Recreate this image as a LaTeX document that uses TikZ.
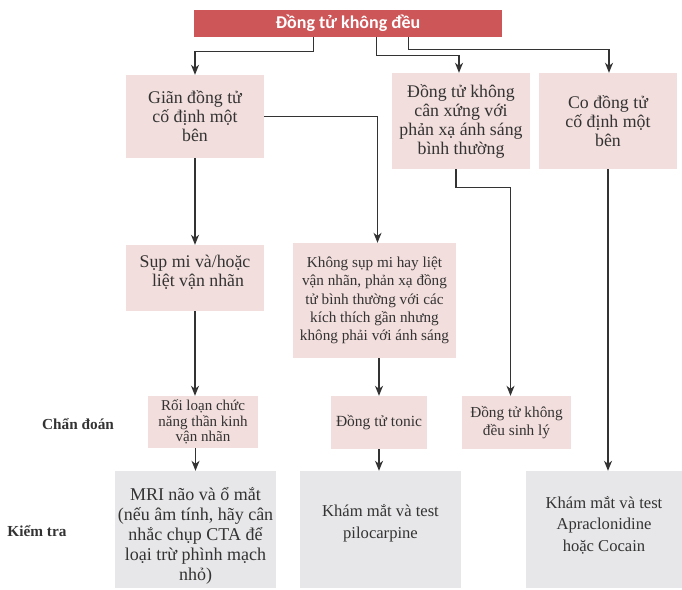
\documentclass[tikz,border=0pt]{standalone}
\usepackage{fontspec}
\newfontfamily\boxfont{Liberation Serif}
\newfontfamily\titlefont{Carlito}
\usetikzlibrary{arrows.meta,calc}
\definecolor{titlered}{HTML}{CD5659}
\definecolor{pinkbox}{HTML}{F2DEDC}
\definecolor{greybox}{HTML}{E7E7E9}
\definecolor{inkgrey}{HTML}{333333}
\tikzset{
  arr/.style={draw=inkgrey, line width=1.2pt, -{Stealth[length=10pt,width=8pt,inset=3pt]}},
  pbox/.style={fill=pinkbox, text=inkgrey, align=center, inner sep=0pt},
  gbox/.style={fill=greybox, text=inkgrey, align=center, inner sep=0pt},
  bigtxt/.style={font=\boxfont\fontsize{17.8}{19}\selectfont},
  testtxt/.style={font=\boxfont\fontsize{16.6}{21.5}\selectfont},
  smalltxt/.style={font=\boxfont\fontsize{15.2}{18.3}\selectfont},
  rowlabel/.style={text=inkgrey, font=\boxfont\fontsize{15.3}{17}\selectfont\bfseries}
}
\begin{document}
\begin{tikzpicture}[x=1pt,y=-1pt]
	\useasboundingbox (0,0) rectangle (682,589);
	% title
	\node[fill=titlered, text=white, minimum width=308pt, minimum height=27pt,
	  font=\titlefont\fontsize{18}{20}\selectfont\bfseries] (title) at (348,23.5) {Đồng tử không đều};
	% first row
	\node[pbox, bigtxt, minimum width=138pt, minimum height=83pt] (gian) at (195,116.5)
	  {Giãn đồng tử\\cố định một\\bên};
	\node[pbox, bigtxt, minimum width=138pt, minimum height=96pt] (cxung) at (461,121)
	  {Đồng tử không\\cân xứng với\\phản xạ ánh sáng\\bình thường};
	\node[pbox, bigtxt, minimum width=138pt, minimum height=96pt] (co) at (608,121)
	  {Co đồng tử\\cố định một\\bên};
	% second row
	\node[pbox, bigtxt, minimum width=138pt, minimum height=66pt] (supmi) at (195,278)
	  {Sụp mi và/hoặc\\\,\,liệt vận nhãn\\[-4pt]};
	\node[pbox, smalltxt, minimum width=163pt, minimum height=115pt] (khongsup) at (374.5,300.5)
	  {Không sụp mi hay liệt\\vận nhãn, phản xạ đồng\\tử bình thường với các\\kích thích gần nhưng\\không phải với ánh sáng};
	% diagnosis
	\node[pbox, font=\boxfont\fontsize{15}{15.8}\selectfont, minimum width=110pt, minimum height=52pt] (roiloan) at (203,422)
	  {Rối loạn chức\\năng thần kinh\\vận nhãn};
	\node[pbox, font=\boxfont\fontsize{15.5}{18}\selectfont, minimum width=96pt, minimum height=53pt] (tonic) at (379,422.5)
	  {Đồng tử tonic};
	\node[pbox, font=\boxfont\fontsize{15.3}{18}\selectfont, minimum width=109pt, minimum height=53pt] (sinhly) at (516.5,422.5)
	  {Đồng tử không\\đều sinh lý};
	% tests
	\node[gbox, font=\boxfont\fontsize{18}{20}\selectfont, minimum width=161pt, minimum height=117pt] (mri) at (195.5,529.5)
	  {\rule{0pt}{26pt}MRI não và ổ mắt\\(nếu âm tính, hãy cân\\nhắc chụp CTA để\\loại trừ phình mạch\\nhỏ)};
	\node[gbox, testtxt, minimum width=161pt, minimum height=117pt] (pilo) at (380.5,529.5)
	  {Khám mắt và test\\pilocarpine\\[-5pt]};
	\node[gbox, testtxt, minimum width=156pt, minimum height=117pt] (apra) at (604,529.5)
	  {Khám mắt và test\\Apraclonidine\\hoặc Cocain\\[-10pt]};
	% row labels
	\node[rowlabel] (chandoan) at (78,424) {Chẩn đoán};
	\node[rowlabel] (kiemtra) at (37,531) {Kiểm tra};
	% connectors
	\draw[arr] ($(title.south west)+(120,0)$) -- ++(0,14) -| (gian.north);
	\draw[arr] ($(title.south west)+(183,0)$) -- ++(0,18) -| ([xshift=-2pt]cxung.north);
	\draw[arr] ($(title.south west)+(215,0)$) -- ++(0,12) -| ([xshift=1pt]co.north);
	\draw[arr] (gian.south) -- (supmi.north);
	\draw[arr] (gian.east) -| ([xshift=3pt]khongsup.north);
	\draw[arr] (supmi.south) -- (supmi.south |- roiloan.north);
	\draw[arr] (khongsup.south -| tonic.north) -- (tonic.north);
	\draw[arr] ([xshift=-5pt]cxung.south) -- ++(0,18) -| ([xshift=-6pt]sinhly.north);
	\draw[arr] (co.south) -- (co.south |- apra.north);
	\draw[arr] (roiloan.south -| mri.north) -- (mri.north);
	\draw[arr] (tonic.south) -- (tonic.south |- pilo.north);
\end{tikzpicture}
\end{document}
